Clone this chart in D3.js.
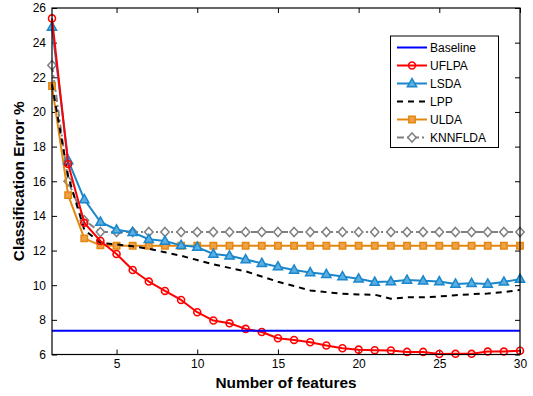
<!DOCTYPE html>
<html>
<head>
<meta charset="utf-8">
<script src="https://cdn.jsdelivr.net/npm/d3@7"></script>
<style>
  html, body { margin: 0; padding: 0; background: #fff; }
  svg { display: block; font-family: "Liberation Sans", Arial, sans-serif; }
</style>
</head>
<body>
<svg id="chart" width="533" height="396"></svg>
<script>
// Number of features on the horizontal axis
const features = d3.range(1, 31);

// Classification error (%) of each method
const baseline = 7.37;
const uflpa = [25.4, 17.0, 13.6, 12.55, 11.8, 10.88, 10.21, 9.67, 9.15, 8.44, 7.96, 7.8, 7.48, 7.3, 6.94,
               6.84, 6.71, 6.52, 6.36, 6.28, 6.25, 6.23, 6.15, 6.15, 6.03, 6.04, 6.04, 6.17, 6.17, 6.22];
const lsda = [24.9, 17.2, 14.95, 13.65, 13.2, 13.05, 12.65, 12.55, 12.3, 12.2, 11.8, 11.7, 11.48, 11.27, 11.07,
              10.88, 10.73, 10.63, 10.5, 10.37, 10.18, 10.21, 10.3, 10.25, 10.21, 10.07, 10.11, 10.07, 10.19, 10.35];
const lpp = [21.6, 16.3, 13.2, 12.45, 12.35, 12.25, 12.1, 11.9, 11.7, 11.45, 11.2, 11.0, 10.8, 10.5, 10.2,
             9.95, 9.7, 9.6, 9.5, 9.47, 9.45, 9.22, 9.3, 9.3, 9.35, 9.42, 9.48, 9.52, 9.6, 9.73];
const ulda = [21.5, 15.2, 12.7, 12.3, 12.28, 12.28, 12.28, 12.28, 12.28, 12.28, 12.28, 12.28, 12.28, 12.28, 12.28,
              12.28, 12.28, 12.28, 12.28, 12.28, 12.28, 12.28, 12.28, 12.28, 12.28, 12.28, 12.28, 12.28, 12.28, 12.28];
const knnflda = [22.7, 16.0, 13.75, 13.07, 13.07, 13.07, 13.07, 13.07, 13.07, 13.07, 13.07, 13.07, 13.07, 13.07, 13.07,
                 13.07, 13.07, 13.07, 13.07, 13.07, 13.07, 13.07, 13.07, 13.07, 13.07, 13.07, 13.07, 13.07, 13.07, 13.07];

// Axis ticks
const xTicks = [5, 10, 15, 20, 25, 30];
const yTicks = [6, 8, 10, 12, 14, 16, 18, 20, 22, 24, 26];

const svg = d3.select("#chart");
const m = { left: 52, right: 520, top: 8, bottom: 354.5 };

const x = d3.scaleLinear().domain([1, 30]).range([m.left, m.right]);
const y = d3.scaleLinear().domain([6, 26]).range([m.bottom, m.top]);

// Axes (inward ticks, mirrored on top/right)
const tickLen = 5;
const axB = svg.append("g").attr("transform", `translate(0,${m.bottom})`)
  .call(d3.axisBottom(x).tickValues(xTicks).tickSizeInner(-tickLen).tickSizeOuter(0).tickPadding(5));
const axL = svg.append("g").attr("transform", `translate(${m.left},0)`)
  .call(d3.axisLeft(y).tickValues(yTicks).tickSizeInner(-tickLen).tickSizeOuter(0).tickPadding(6));
const axT = svg.append("g").attr("transform", `translate(0,${m.top})`)
  .call(d3.axisTop(x).tickValues(xTicks).tickSizeInner(-tickLen).tickSizeOuter(0).tickFormat(""));
const axR = svg.append("g").attr("transform", `translate(${m.right},0)`)
  .call(d3.axisRight(y).tickValues(yTicks).tickSizeInner(-tickLen).tickSizeOuter(0).tickFormat(""));
[axB, axL, axT, axR].forEach(a => {
  a.select(".domain").remove();
  a.selectAll("line").attr("stroke", "#000").attr("stroke-width", 1);
  a.selectAll("text").attr("font-size", 12).attr("fill", "#000")
    .attr("font-family", "'Liberation Sans', Arial, sans-serif");
});

// Series definitions
const series = [
  { name: "UFLPA", values: uflpa, color: "#ff0000", dash: null, marker: "circle", fill: "none" },
  { name: "LSDA", values: lsda, color: "#1a86cc", dash: null, marker: "triangle", fill: "#5aaee0" },
  { name: "LPP", values: lpp, color: "#000000", dash: "6,5", marker: null },
  { name: "ULDA", values: ulda, color: "#e5870f", dash: null, marker: "square", fill: "#eda24a" },
  { name: "KNNFLDA", values: knnflda, color: "#808080", dash: "7,3,2,3", marker: "diamond", fill: "#ffffff" }
];

const plot = svg.append("g");
const line = d3.line().x((d, i) => x(features[i])).y(d => y(d));

function markerPath(type) {
  if (type === "circle") return d3.symbol(d3.symbolCircle, 38)();
  if (type === "triangle") return "M0,-5L4.6,3.2L-4.6,3.2Z";
  if (type === "square") return "M-3.2,-3.2H3.2V3.2H-3.2Z";
  if (type === "diamond") return "M0,-4.6L4.2,0L0,4.6L-4.2,0Z";
  return null;
}

// Draw order: back to front
const order = ["KNNFLDA", "ULDA", "LPP", "LSDA", "UFLPA"];
order.forEach(name => {
  const s = series.find(d => d.name === name);
  plot.append("path")
    .datum(s.values)
    .attr("d", line)
    .attr("fill", "none")
    .attr("stroke", s.color)
    .attr("stroke-width", 2)
    .attr("stroke-dasharray", s.dash)
    .attr("stroke-linejoin", "round");
  if (s.marker) {
    plot.append("g").selectAll("path")
      .data(s.values)
      .join("path")
      .attr("transform", (d, i) => `translate(${x(features[i])},${y(d)})`)
      .attr("d", markerPath(s.marker))
      .attr("fill", s.fill)
      .attr("stroke", s.color)
      .attr("stroke-width", s.marker === "circle" ? 1.6 : 1.5);
  }
});

// Baseline
plot.append("line")
  .attr("x1", x(1)).attr("x2", x(30))
  .attr("y1", y(baseline)).attr("y2", y(baseline))
  .attr("stroke", "#0000ff").attr("stroke-width", 2);

// Frame
svg.append("rect")
  .attr("x", m.left).attr("y", m.top)
  .attr("width", m.right - m.left).attr("height", m.bottom - m.top)
  .attr("fill", "none").attr("stroke", "#000").attr("stroke-width", 1.2);

// Axis titles
svg.append("text")
  .attr("x", 286).attr("y", 388)
  .attr("text-anchor", "middle").attr("font-size", 15.4).attr("font-weight", "bold")
  .text("Number of features");
svg.append("text")
  .attr("transform", `translate(24,${(m.top + m.bottom) / 2}) rotate(-90)`)
  .attr("text-anchor", "middle").attr("font-size", 15.4).attr("font-weight", "bold")
  .text("Classification Error %");

// Legend
const legendItems = [
  { name: "Baseline", color: "#0000ff", dash: null, marker: null },
  ...series
];
const lg = svg.append("g");
lg.append("rect")
  .attr("x", 390.5).attr("y", 36).attr("width", 108).attr("height", 111.5)
  .attr("fill", "#fff").attr("stroke", "#000").attr("stroke-width", 1);
legendItems.forEach((s, i) => {
  const yy = 47.5 + i * 18;
  lg.append("line")
    .attr("x1", 397).attr("x2", 427).attr("y1", yy).attr("y2", yy)
    .attr("stroke", s.color).attr("stroke-width", 2)
    .attr("stroke-dasharray", s.dash);
  if (s.marker) {
    lg.append("path")
      .attr("transform", `translate(412,${yy})`)
      .attr("d", markerPath(s.marker))
      .attr("fill", s.fill).attr("stroke", s.color).attr("stroke-width", 1.5);
  }
  lg.append("text")
    .attr("x", 430).attr("y", yy + 4.3)
    .attr("font-size", 12).attr("fill", "#000")
    .text(s.name);
});
</script>
</body>
</html>
